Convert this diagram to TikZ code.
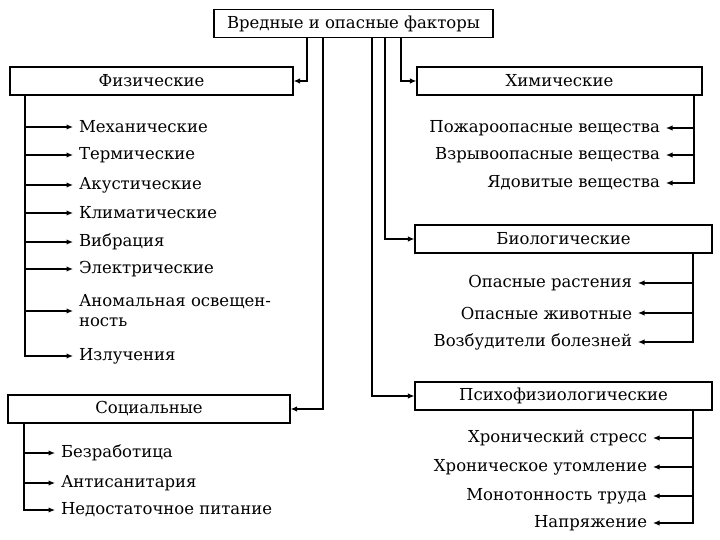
\documentclass[tikz,border=0pt]{standalone}
\usepackage{fontspec}
\setmainfont{DejaVu Serif}
\usetikzlibrary{arrows.meta,positioning,calc}
\tikzset{
  box/.style={draw, line width=1.2pt, rectangle, minimum height=28pt, inner sep=0pt, font=\fontsize{16.5}{20}\selectfont},
  item/.style={inner sep=0pt, outer sep=0pt, font=\fontsize{16.5}{20}\selectfont},
  arr/.style={line width=1.2pt, -{Latex[length=6.5pt,width=5.5pt]}},
  arrin/.style={arr, shorten >=6pt},
}
\begin{document}
\begin{tikzpicture}[x=1pt,y=-1pt]
\useasboundingbox (0,0) rectangle (720,540);
% boxes
\node[box, minimum width=279pt] (top) at (353.5,23.5) {Вредные и опасные факторы};
\node[box, minimum width=283pt] (phys) at (151.5,81) {Физические};
\node[box, minimum width=285pt] (chem) at (559.5,81) {Химические};
\node[box, minimum width=297pt] (bio) at (563.5,239) {Биологические};
\node[box, minimum width=297pt] (psy) at (563.5,396) {Психофизиологические};
\node[box, minimum width=282pt] (soc) at (149,409) {Социальные};
% connectors from top
\draw[arr] ([xshift=-46.5pt]top.south) |- (phys.east);
\draw[arr] ([xshift=-30.5pt]top.south) |- (soc.east);
\draw[arr] ([xshift=18.5pt]top.south) |- (psy.west);
\draw[arr] ([xshift=31.5pt]top.south) |- (bio.west);
\draw[arr] ([xshift=47.5pt]top.south) |- (chem.west);
% physical items
\node[item, anchor=west] (p1) at (79,127) {Механические};
\node[item, anchor=west] (p2) at (79,155) {Термические};
\node[item, anchor=west] (p3) at (79,185) {Акустические};
\node[item, anchor=west] (p4) at (79,213) {Климатические};
\node[item, anchor=west] (p5) at (79,242) {Вибрация};
\node[item, anchor=west] (p6) at (79,269) {Электрические};
\node[item, anchor=west, align=left] (p7) at (79,311) {Аномальная освещен-\\ность};
\node[item, anchor=west] (p8) at (79,356) {Излучения};
\coordinate (pt) at ([xshift=-126.5pt]phys.south);
\draw[arrin] (pt) |- (p8.west);
\foreach \i in {1,...,7} \draw[arrin] (pt |- p\i.west) -- (p\i.west);
% social items
\node[item, anchor=west] (s1) at (61,453) {Безработица};
\node[item, anchor=west] (s2) at (61,483) {Антисанитария};
\node[item, anchor=west] (s3) at (61,510) {Недостаточное питание};
\coordinate (st) at ([xshift=-125pt]soc.south);
\draw[arrin] (st) |- (s3.west);
\foreach \i in {1,2} \draw[arrin] (st |- s\i.west) -- (s\i.west);
% chemical items
\node[item, anchor=east] (c1) at (660,128) {Пожароопасные вещества};
\node[item, anchor=east] (c2) at (660,155) {Взрывоопасные вещества};
\node[item, anchor=east] (c3) at (660,183) {Ядовитые вещества};
\coordinate (ct) at ([xshift=134.5pt]chem.south);
\draw[arrin] (ct) |- (c3.east);
\foreach \i in {1,2} \draw[arrin] (ct |- c\i.east) -- (c\i.east);
% biological items
\node[item, anchor=east] (b1) at (632,283) {Опасные растения};
\node[item, anchor=east] (b2) at (632,313) {Опасные животные};
\node[item, anchor=east] (b3) at (632,342) {Возбудители болезней};
\coordinate (bt) at ([xshift=129.5pt]bio.south);
\draw[arrin] (bt) |- (b3.east);
\foreach \i in {1,2} \draw[arrin] (bt |- b\i.east) -- (b\i.east);
% psychophysiological items
\node[item, anchor=east] (h1) at (647,438) {Хронический стресс};
\node[item, anchor=east] (h2) at (647,467) {Хроническое утомление};
\node[item, anchor=east] (h3) at (647,496) {Монотонность труда};
\node[item, anchor=east] (h4) at (647,523) {Напряжение};
\coordinate (ht) at ([xshift=129.5pt]psy.south);
\draw[arrin] (ht) |- (h4.east);
\foreach \i in {1,2,3} \draw[arrin] (ht |- h\i.east) -- (h\i.east);
\end{tikzpicture}
\end{document}
